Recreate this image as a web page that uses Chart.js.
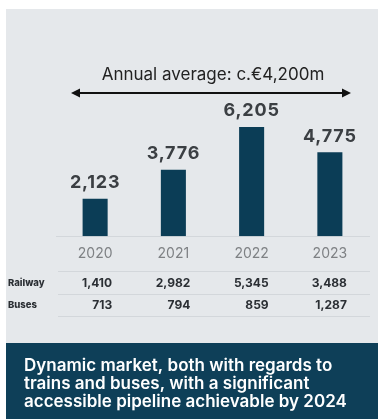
<!DOCTYPE html>
<html>
<head>
<meta charset="utf-8">
<script src="https://cdn.jsdelivr.net/npm/chart.js@4.4.1/dist/chart.umd.min.js"></script>
<style>
  html, body { margin: 0; padding: 0; background: #ffffff; }
  #wrap { position: relative; width: 380px; height: 419px; }
</style>
</head>
<body>
<div id="wrap"><canvas id="chart"></canvas></div>
<script>
// Order intake by year (€m)
const years = ['2020', '2021', '2022', '2023'];
const totals = [2123, 3776, 6205, 4775];
const railway = [1410, 2982, 5345, 3488];
const buses = [713, 794, 859, 1287];
const averageLabel = 'Annual average: c.€4,200m';
const footerLines = [
  'Dynamic market, both with regards to',
  'trains and buses, with a significant',
  'accessible pipeline achievable by 2024'
];

const FONT = 'Inter, "Noto Sans", Roboto, sans-serif';
const fmt = v => v.toLocaleString('en-US');

const panelPlugin = {
  id: 'panel',
  beforeDraw(chart) {
    const ctx = chart.ctx;
    ctx.save();
    ctx.fillStyle = '#ffffff';
    ctx.fillRect(0, 0, chart.width, chart.height);
    ctx.fillStyle = '#e5e8eb';
    ctx.fillRect(6, 9, 372, 410);
    ctx.fillStyle = '#0e3f58';
    ctx.fillRect(6, 343, 372, 76);
    ctx.restore();
  },
  afterDraw(chart) {
    const ctx = chart.ctx;
    const x = chart.scales.x;
    const meta = chart.getDatasetMeta(0);
    ctx.save();

    // headline + double arrow
    ctx.fillStyle = '#222222';
    ctx.font = '400 17px ' + FONT;
    ctx.textAlign = 'center';
    ctx.textBaseline = 'middle';
    ctx.fillText(averageLabel, 213, 75);
    const ax0 = 71, ax1 = 351, ay = 93;
    ctx.strokeStyle = '#111111';
    ctx.lineWidth = 2.2;
    ctx.beginPath();
    ctx.moveTo(ax0 + 4, ay);
    ctx.lineTo(ax1 - 4, ay);
    ctx.stroke();
    ctx.fillStyle = '#111111';
    ctx.beginPath();
    ctx.moveTo(ax0, ay); ctx.lineTo(ax0 + 9, ay - 4.5); ctx.lineTo(ax0 + 9, ay + 4.5); ctx.closePath();
    ctx.fill();
    ctx.beginPath();
    ctx.moveTo(ax1, ay); ctx.lineTo(ax1 - 9, ay - 4.5); ctx.lineTo(ax1 - 9, ay + 4.5); ctx.closePath();
    ctx.fill();

    // value labels above bars
    ctx.fillStyle = '#3b3f43';
    ctx.font = '700 18px ' + FONT;
    if ('letterSpacing' in ctx) ctx.letterSpacing = '0.8px';
    meta.data.forEach((bar, i) => {
      ctx.fillText(fmt(totals[i]), bar.x, bar.y - 16);
    });
    if ('letterSpacing' in ctx) ctx.letterSpacing = '0px';

    // breakdown table
    ctx.strokeStyle = '#d3d7db';
    ctx.lineWidth = 1;
    [271, 294, 316].forEach(y => {
      ctx.beginPath();
      ctx.moveTo(58, y + 0.5);
      ctx.lineTo(370, y + 0.5);
      ctx.stroke();
    });
    ctx.textAlign = 'left';
    ctx.fillStyle = '#2b2f34';
    ctx.font = '800 9.5px ' + FONT;
    ctx.fillText('Railway', 8, 283);
    ctx.fillText('Buses', 8, 305);
    ctx.font = '700 12px ' + FONT;
    ctx.textAlign = 'right';
    years.forEach((_, i) => {
      const cx = x.getPixelForValue(i) + 17;
      ctx.fillText(fmt(railway[i]), cx, 283);
      ctx.fillText(fmt(buses[i]), cx, 305);
    });

    // footer statement
    ctx.fillStyle = '#ffffff';
    ctx.font = '600 17px ' + FONT;
    ctx.textAlign = 'left';
    footerLines.forEach((t, i) => ctx.fillText(t, 24, 366 + i * 18));
    ctx.restore();
  }
};

new Chart(document.getElementById('chart'), {
  type: 'bar',
  data: {
    labels: years,
    datasets: [{
      data: totals,
      backgroundColor: '#0b3d56',
      borderWidth: 0,
      categoryPercentage: 1,
      barPercentage: 0.32
    }]
  },
  options: {
    responsive: true,
    maintainAspectRatio: false,
    animation: false,
    events: [],
    layout: { padding: { left: 56, right: 11, top: 113, bottom: 148 } },
    plugins: { legend: { display: false }, tooltip: { enabled: false } },
    scales: {
      x: {
        grid: { display: true, color: 'rgba(0,0,0,0)', drawTicks: false, drawOnChartArea: false },
        border: { display: true, color: '#d3d7db', width: 1 },
        ticks: { color: '#7e8184', font: { family: FONT, size: 14 }, padding: 9 }
      },
      y: { display: false, min: 0, max: 7000 }
    }
  },
  plugins: [panelPlugin]
});
</script>
</body>
</html>
